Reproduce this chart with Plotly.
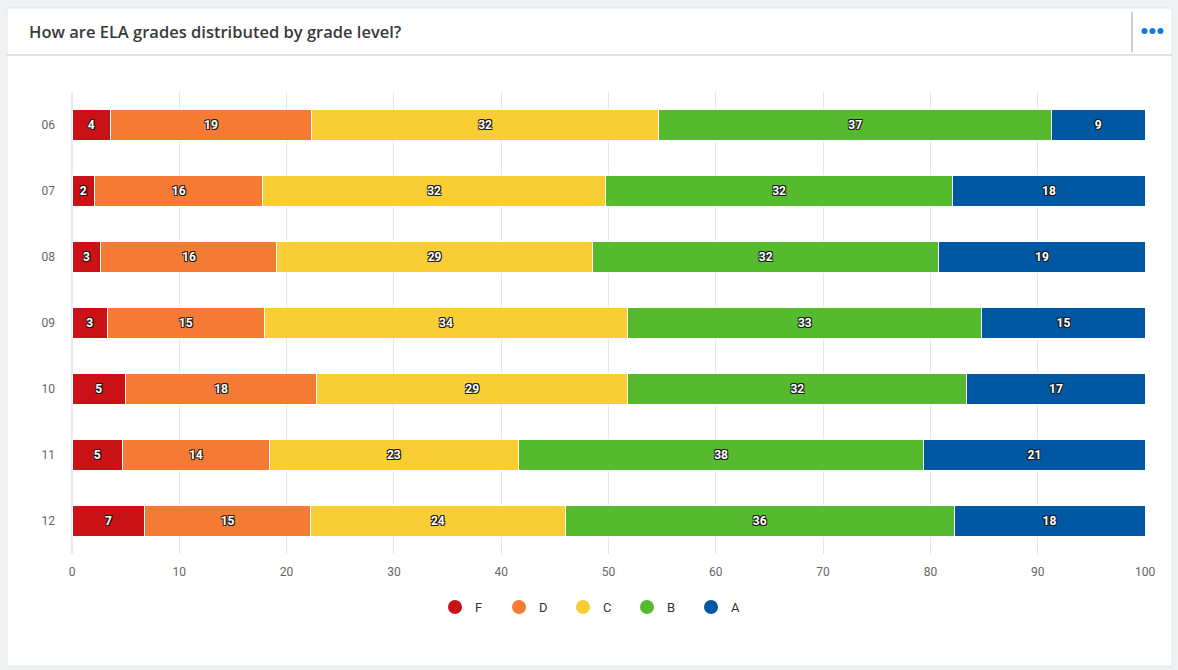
import plotly.graph_objects as go

# ---------------- data ----------------
grade_levels = ["06", "07", "08", "09", "10", "11", "12"]
series_names = ["F", "D", "C", "B", "A"]
F_vals = [3.6, 2.1, 2.7, 3.3, 5.0, 4.7, 6.8]
D_vals = [18.7, 15.7, 16.4, 14.6, 17.8, 13.7, 15.4]
C_vals = [32.4, 31.9, 29.4, 33.9, 29.0, 23.2, 23.8]
B_vals = [36.6, 32.4, 32.3, 33.0, 31.6, 37.8, 36.2]
A_vals = [8.7, 17.9, 19.2, 15.2, 16.6, 20.6, 17.8]
x_ticks = [0, 10, 20, 30, 40, 50, 60, 70, 80, 90, 100]
title_text = "How are ELA grades distributed by grade level?"

colors = {"F": "#c91116", "D": "#f57a34", "C": "#f9ce34", "B": "#55ba2e", "A": "#0058a3"}
values = {"F": F_vals, "D": D_vals, "C": C_vals, "B": B_vals, "A": A_vals}

# ---------------- layout geometry (pixels) ----------------
W, H = 1178, 670
L, R, T, B = 72, 1145, 92, 554


def px_x(px):
    return (px - L) / (R - L)


def px_y(py):
    return (B - py) / (B - T)


fig = go.Figure()

outline = "-1px -1px 0 #1a1a1a, 1px -1px 0 #1a1a1a, -1px 1px 0 #1a1a1a, 1px 1px 0 #1a1a1a"

for name in series_names:
    fig.add_trace(go.Bar(
        name=name,
        y=grade_levels,
        x=values[name],
        orientation="h",
        marker=dict(color=colors[name], line=dict(color="#ffffff", width=1)),
        texttemplate="%{x:.0f}",
        textposition="inside",
        insidetextanchor="middle",
        textangle=0,
        textfont=dict(family="Roboto", size=12, color="#ffffff", weight="bold", shadow=outline),
        showlegend=False,
        hoverinfo="x+name",
    ))

# legend entries with circle symbols
for name in series_names:
    fig.add_trace(go.Scatter(
        name=name,
        x=[None], y=[None],
        mode="markers",
        marker=dict(color=colors[name], size=14, symbol="circle"),
        showlegend=True,
    ))

shapes = [
    # white card
    dict(type="rect", xref="paper", yref="paper",
         x0=px_x(7), x1=px_x(1172), y0=px_y(666), y1=px_y(8),
         fillcolor="#ffffff", line=dict(color="#e3e7ea", width=1), layer="below"),
    # header separator
    dict(type="line", xref="paper", yref="paper",
         x0=px_x(7), x1=px_x(1172), y0=px_y(55), y1=px_y(55),
         line=dict(color="#d6d6d6", width=1.5), layer="below"),
    # vertical divider near menu
    dict(type="line", xref="paper", yref="paper",
         x0=px_x(1132), x1=px_x(1132), y0=px_y(12), y1=px_y(52),
         line=dict(color="#d0d0d0", width=2), layer="below"),
    # category axis line
    dict(type="line", xref="paper", yref="paper",
         x0=0, x1=0, y0=0, y1=1,
         line=dict(color="#ccd6eb", width=1), layer="below"),
]
for cx in (1144.5, 1152.5, 1160.5):
    shapes.append(dict(type="circle", xref="paper", yref="paper",
                       x0=px_x(cx - 3), x1=px_x(cx + 3), y0=px_y(31 + 3), y1=px_y(31 - 3),
                       fillcolor="#1479d6", line=dict(width=0)))

fig.update_layout(
    width=W, height=H, autosize=False,
    margin=dict(l=L, r=W - R, t=T, b=H - B, pad=0, autoexpand=False),
    paper_bgcolor="#eff2f3",
    plot_bgcolor="rgba(0,0,0,0)",
    barmode="stack",
    bargap=0.52,
    shapes=shapes,
    annotations=[dict(
        text=title_text, xref="paper", yref="paper",
        x=px_x(27), y=px_y(32), xanchor="left", yanchor="middle",
        showarrow=False, font=dict(family="Open Sans", size=16.5, color="#3a3a3a", weight=600),
    )],
    legend=dict(
        orientation="h", xref="paper", x=px_x(595), xanchor="center",
        yref="paper", y=px_y(607), yanchor="middle",
        font=dict(family="Roboto", size=13, color="#333333"),
        bgcolor="rgba(0,0,0,0)", entrywidth=19, entrywidthmode="pixels",
        traceorder="normal", itemclick=False, itemdoubleclick=False,
    ),
    xaxis=dict(
        range=[0, 100], tickvals=x_ticks, showgrid=True, gridcolor="#e6e6e6", gridwidth=1,
        zeroline=False, showline=False, ticks="",
        tickfont=dict(family="Roboto", size=12, color="#666666"),
        ticklabelstandoff=9, fixedrange=True,
    ),
    yaxis=dict(
        type="category", categoryorder="array", categoryarray=grade_levels,
        autorange="reversed", showgrid=False, zeroline=False, showline=False, ticks="",
        tickfont=dict(family="Roboto", size=12, color="#666666"),
        ticklabelstandoff=16, fixedrange=True,
    ),
    hovermode="closest",
)

fig.write_html("out.html", config={"displayModeBar": False},
               post_script="document.body.style.margin='0';")
